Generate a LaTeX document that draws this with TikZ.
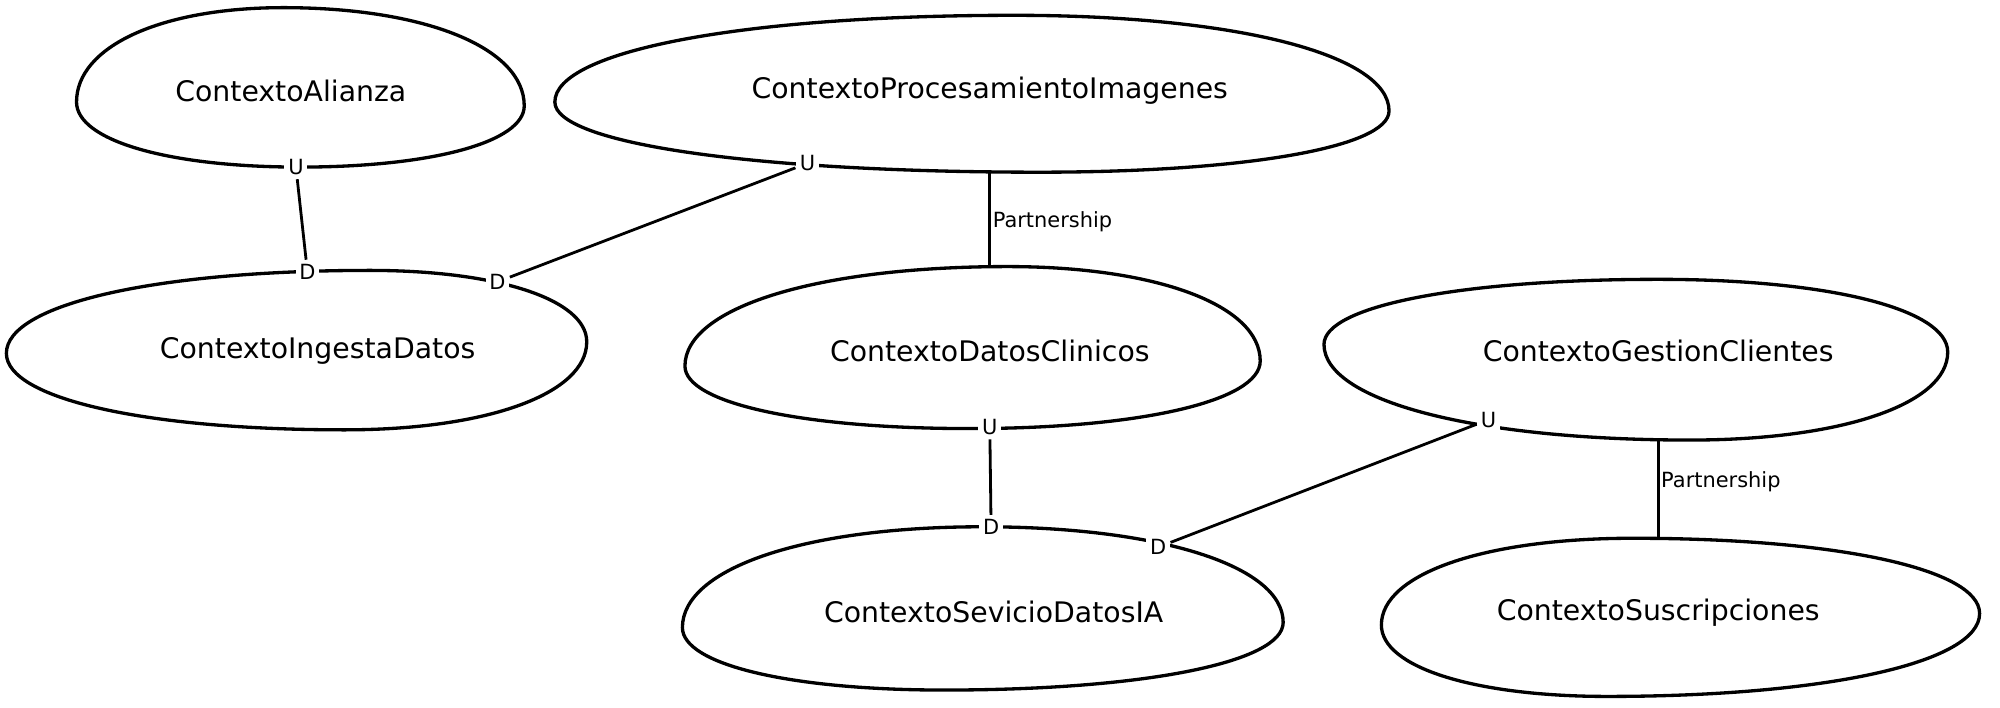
\documentclass[tikz,border=0pt]{standalone}
\usepackage{fontspec}
\setmainfont{DejaVu Sans}
\newcommand{\blobshape}[8]{%
  \draw[blob] (#1,#2)
    .. controls (#1,{#2-0.59*(#2-#4)}) and ({#3-0.59*(#3-#1)},#4) .. (#3,#4)
    .. controls ({#3+0.59*(#5-#3)},#4) and (#5,{#6-0.59*(#6-#4)}) .. (#5,#6)
    .. controls (#5,{#6+0.59*(#8-#6)}) and ({#7+0.59*(#5-#7)},#8) .. (#7,#8)
    .. controls ({#7-0.59*(#7-#1)},#8) and (#1,{#2+0.59*(#8-#2)}) .. cycle;}
\begin{document}
\begin{tikzpicture}[x=0.5pt,y=-0.5pt,
  blob/.style={line width=1.3pt},
  ctx/.style={font=\fontsize{11.1}{13}\selectfont, inner sep=0pt},
  rel/.style={font=\fontsize{8.2}{10}\selectfont, fill=white, inner sep=1.5pt},
  plabel/.style={font=\fontsize{8.2}{10}\selectfont, inner sep=0pt, anchor=west},
  conn/.style={line width=1.1pt}]
\useasboundingbox (0,0) rectangle (1568,555);
% context shapes
\blobshape{60}{80}{222}{6}{411}{83}{235}{131}
\blobshape{435}{80}{795}{12}{1089}{87}{815}{135}
\blobshape{5}{277}{290}{212}{460}{268}{270}{337}
\blobshape{537}{287}{790}{209}{988}{283}{760}{336}
\blobshape{1038}{270}{1300}{219}{1527}{276}{1325}{345}
\blobshape{535}{492}{770}{413}{1006}{488}{740}{541}
\blobshape{1083}{490}{1280}{422}{1552}{481}{1260}{546}
% context names
\node[ctx] (ali) at (228,71) {ContextoAlianza};
\node[ctx] (proc) at (776,71) {ContextoProcesamientoImagenes};
\node[ctx] (ing) at (249,275) {ContextoIngestaDatos};
\node[ctx] (dc) at (776,275) {ContextoDatosClinicos};
\node[ctx] (ges) at (1300,275) {ContextoGestionClientes};
\node[ctx] (sev) at (779,480) {ContextoSevicioDatosIA};
\node[ctx] (sus) at (1300,480) {ContextoSuscripciones};
% U / D labels
\node[rel] (aliU) at (232,131) {U};
\node[rel] (ingD1) at (241,213) {D};
\node[rel] (procU) at (633,128) {U};
\node[rel] (ingD2) at (390,221) {D};
\node[rel] (dcU) at (776,335) {U};
\node[rel] (sevD1) at (777,413) {D};
\node[rel] (gesU) at (1167,329) {U};
\node[rel] (sevD2) at (908,429) {D};
% partnership end points
\coordinate (procB) at (776,135);
\coordinate (dcT) at (776,209);
\coordinate (gesB) at (1300,345);
\coordinate (susT) at (1300,422);
% connectors
\draw[conn] (aliU) -- (ingD1);
\draw[conn] (procU) -- (ingD2);
\draw[conn] (dcU) -- (sevD1);
\draw[conn] (gesU) -- (sevD2);
\draw[conn] (procB) -- (dcT);
\draw[conn] (gesB) -- (susT);
\node[plabel] (p1) at (778,174) {Partnership};
\node[plabel] (p2) at (1302,378) {Partnership};
\end{tikzpicture}
\end{document}
